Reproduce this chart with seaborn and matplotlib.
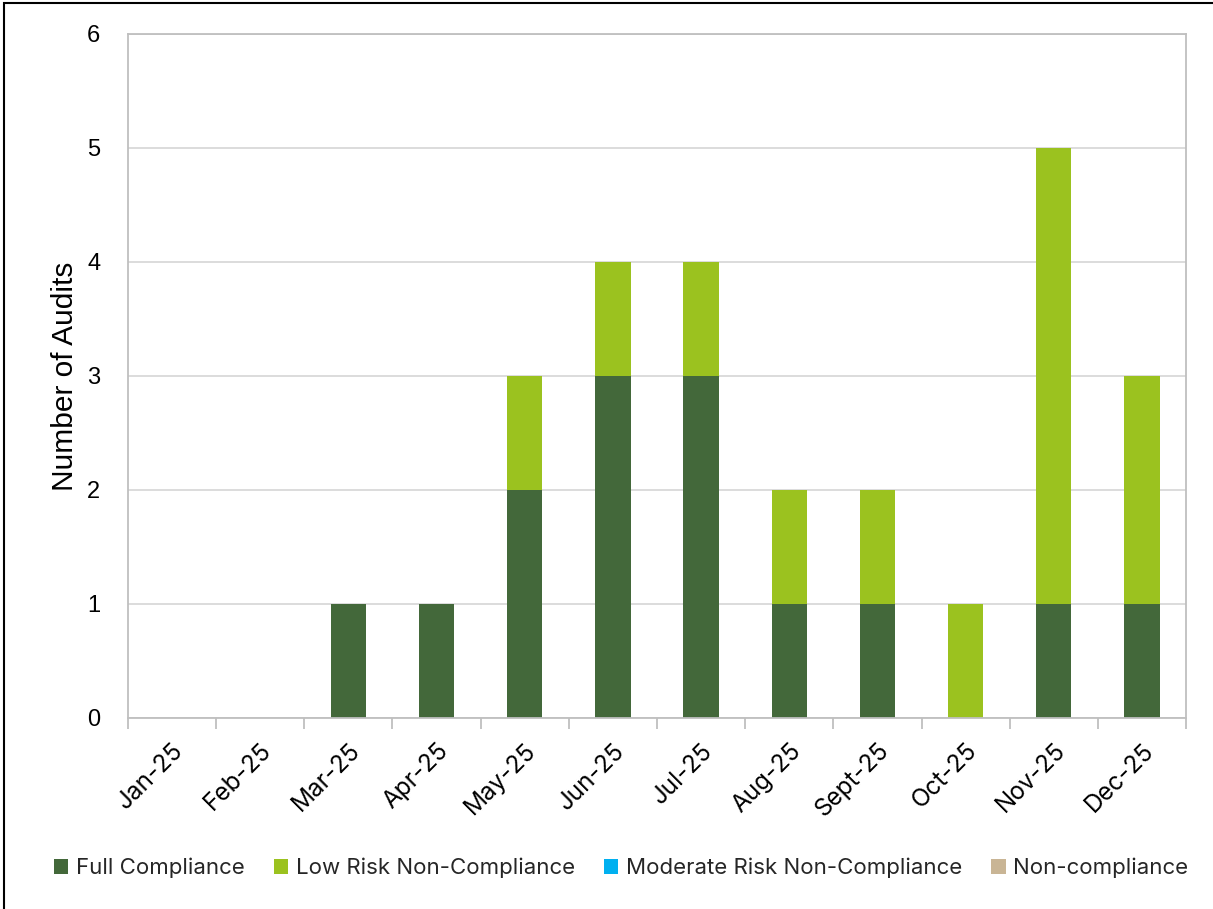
import matplotlib
matplotlib.use("Agg")
import matplotlib.pyplot as plt
from matplotlib.patches import Patch, Rectangle
from matplotlib.ticker import FixedLocator
import numpy as np
import pandas as pd
import seaborn as sns

months = ["Jan-25", "Feb-25", "Mar-25", "Apr-25", "May-25", "Jun-25",
          "Jul-25", "Aug-25", "Sept-25", "Oct-25", "Nov-25", "Dec-25"]
full_compliance = [0, 0, 1, 1, 2, 3, 3, 1, 1, 0, 1, 1]
low_risk = [0, 0, 0, 0, 1, 1, 1, 1, 1, 1, 4, 2]
moderate_risk = [0] * 12
non_compliance = [0] * 12

series_names = ["Full Compliance", "Low Risk Non-Compliance",
                "Moderate Risk Non-Compliance", "Non-compliance"]
colors = ["#43683A", "#9BC21F", "#00B0F0", "#C9B595"]

sns.set_theme(style="white")
label_font = ["Inter", "DejaVu Sans"]
num_font = ["Liberation Sans", "DejaVu Sans"]

fig = plt.figure(figsize=(12.13, 9.09), dpi=100)
ax = fig.add_axes([128/1213, 1 - 718/909, (1186-128)/1213, (718-34)/909])

series = [full_compliance, low_risk, moderate_risk, non_compliance]
cum = np.cumsum(np.array(series, dtype=float), axis=0)
# draw from top of stack down so lower segments overlay
for i in range(3, -1, -1):
    df = pd.DataFrame({"month": months, "value": cum[i]})
    sns.barplot(data=df, x="month", y="value", order=months, color=colors[i],
                width=0.4, saturation=1, ax=ax, errorbar=None, linewidth=0)

ax.set_xlim(-0.5, 11.5)
ax.set_ylim(0, 6)
ax.set_yticks(range(0, 7))
ax.yaxis.grid(True, color="#D9D9D9", linewidth=1.3)
ax.set_axisbelow(True)
for s in ax.spines.values():
    s.set_visible(True)
    s.set_color("#BFBFBF")
    s.set_linewidth(1.3)

ax.set_xlabel("")
ax.set_ylabel("Number of Audits", fontsize=21.5, family=num_font, color="black", labelpad=6)
ax.tick_params(axis="y", length=0, pad=20, labelsize=17, labelcolor="black")
for t in ax.get_yticklabels():
    t.set_family(num_font)

ax.xaxis.set_minor_locator(FixedLocator(np.arange(-0.5, 12, 1)))
ax.tick_params(axis="x", which="major", length=0, pad=15, labelsize=17.5, labelcolor="black")
ax.tick_params(axis="x", which="minor", length=8, width=1.3, color="#BFBFBF", direction="out", bottom=True)
ax.set_xticks(range(12))
ax.set_xticklabels(months, rotation=45, ha="right", rotation_mode="anchor", family=label_font)

handles = [Patch(facecolor=c, edgecolor="none", label=n) for c, n in zip(colors, series_names)]
fig.legend(handles=handles, loc="center", bbox_to_anchor=(0.512, 1 - 868/909), ncol=4,
           frameon=False, prop={"family": label_font, "size": 16},
           handlelength=0.65, handleheight=0.65, handletextpad=0.35, columnspacing=1.3)

fig.add_artist(Rectangle((4/1213, -0.01), 1.2, 1 - 3/909 + 0.01, transform=fig.transFigure,
                         fill=False, edgecolor="black", linewidth=1.5))

fig.savefig("out.png", dpi=100, facecolor="white")
